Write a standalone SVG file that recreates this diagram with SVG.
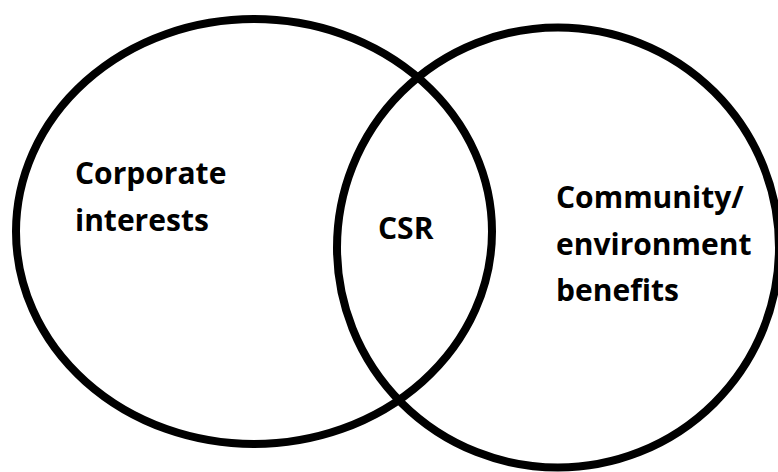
<svg xmlns="http://www.w3.org/2000/svg" width="778" height="472" viewBox="0 0 778 472">
  <style>
    .ring { fill: none; stroke: #000; stroke-width: 8; }
    .lbl { font-family: "Open Sans", "Liberation Sans", sans-serif; font-weight: bold; font-size: 30px; fill: #000; }
  </style>
  <rect x="0" y="0" width="778" height="472" fill="#fff"/>
  <g id="corporate">
    <ellipse class="ring" cx="254" cy="231.5" rx="238" ry="212.5"/>
    <text class="lbl" x="75" y="184">Corporate</text>
    <text class="lbl" x="75" y="231">interests</text>
  </g>
  <g id="community">
    <ellipse class="ring" cx="558" cy="247.5" rx="221" ry="220"/>
    <text class="lbl" x="556" y="208">Community/</text>
    <text class="lbl" x="556" y="255">environment</text>
    <text class="lbl" x="556" y="301">benefits</text>
  </g>
  <g id="csr">
    <text class="lbl" x="378" y="239">CSR</text>
  </g>
  <g id="connectors"></g>
</svg>
